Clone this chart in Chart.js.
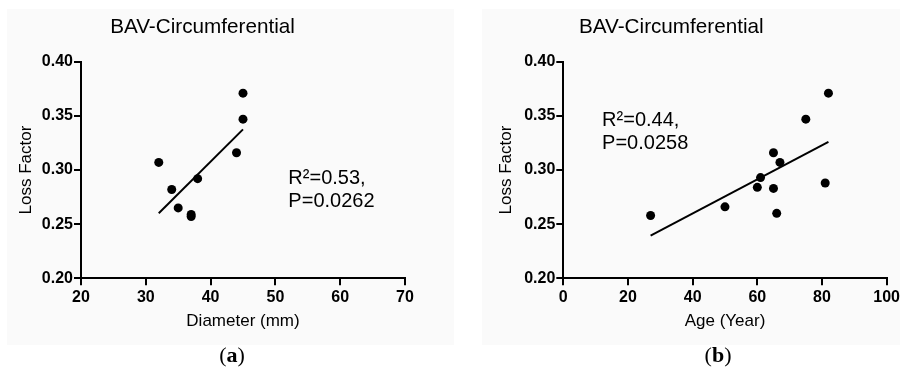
<!DOCTYPE html>
<html>
<head>
<meta charset="utf-8">
<script src="https://cdn.jsdelivr.net/npm/chart.js@4/dist/chart.umd.min.js"></script>
<style>
  html, body { margin: 0; padding: 0; background: #ffffff; width: 903px; height: 381px; overflow: hidden; }
  .panel { position: absolute; background: #fafafa; }
  .wrap { position: absolute; }
  .lab { position: absolute; font-family: "Liberation Serif", "DejaVu Serif", serif; font-size: 22px; color: #000; transform: translateX(-50%); }
</style>
</head>
<body>
<div class="panel" style="left:7px;top:9px;width:447px;height:336px;"></div>
<div class="panel" style="left:482px;top:9px;width:418px;height:336px;"></div>
<div class="wrap" style="left:0px;top:0px;width:450px;height:345px;"><canvas id="c1" width="450" height="345"></canvas></div>
<div class="wrap" style="left:455px;top:0px;width:448px;height:345px;"><canvas id="c2" width="448" height="345"></canvas></div>
<div class="lab" style="left:232px;top:342px;">(<b>a</b>)</div>
<div class="lab" style="left:718px;top:342px;">(<b>b</b>)</div>
<script>
// ---- Data ----
const chartTitle = "BAV-Circumferential";
const yAxisTitle = "Loss Factor";
const yTicks = [0.20, 0.25, 0.30, 0.35, 0.40];

// Panel (a): Diameter
const diameterX = [32, 34, 35, 37, 37, 38, 44, 45, 45];
const diameterLoss = [0.307, 0.282, 0.265, 0.259, 0.257, 0.292, 0.316, 0.347, 0.371];
const diameterFitX = [32, 45];
const diameterFitY = [0.260, 0.3375];
const diameterTicks = [20, 30, 40, 50, 60, 70];
const diameterTitle = "Diameter (mm)";
const diameterStats = ["R²=0.53,", "P=0.0262"];
const diameterStatsPos = [52, 0.287];

// Panel (b): Age
const ageX = [27, 50, 60, 61, 65, 65, 66, 67, 75, 81, 82];
const ageLoss = [0.258, 0.266, 0.284, 0.293, 0.316, 0.283, 0.260, 0.307, 0.347, 0.288, 0.371];
const ageFitX = [27, 82];
const ageFitY = [0.2395, 0.326];
const ageTicks = [0, 20, 40, 60, 80, 100];
const ageTitle = "Age (Year)";
const ageStats = ["R²=0.44,", "P=0.0258"];
const ageStatsPos = [12, 0.341];

const FONT = "'Liberation Sans', Arial, Helvetica, sans-serif";

const statsPlugin = {
  id: 'stats',
  afterDatasetsDraw(chart, args, opts) {
    const ctx = chart.ctx;
    const xs = chart.scales.x, ys = chart.scales.y;
    const px = xs.getPixelForValue(opts.pos[0]);
    const py = ys.getPixelForValue(opts.pos[1]);
    ctx.save();
    ctx.fillStyle = '#000';
    ctx.font = '20px ' + FONT;
    ctx.textAlign = 'left';
    ctx.textBaseline = 'alphabetic';
    opts.lines.forEach((t, i) => ctx.fillText(t, px, py + i * 23));
    ctx.restore();
  }
};

function makeChart(id, xData, yData, fitX, fitY, xTicks, xTitle, stats, statsPos, yWidth, yTitlePad, xRightPad) {
  const pts = xData.map((x, i) => ({ x: x, y: yData[i] }));
  const fit = fitX.map((x, i) => ({ x: x, y: fitY[i] }));
  return new Chart(document.getElementById(id), {
    type: 'scatter',
    data: {
      datasets: [
        { data: pts, backgroundColor: '#000', borderColor: '#000', pointRadius: 4.5, pointBorderWidth: 0, pointHoverRadius: 4.5 },
        { type: 'line', data: fit, borderColor: '#000', borderWidth: 2, pointRadius: 0, fill: false, tension: 0 }
      ]
    },
    options: {
      responsive: false,
      animation: false,
      events: [],
      layout: { padding: { left: 0, right: xRightPad, top: 0, bottom: 0 } },
      plugins: {
        legend: { display: false },
        tooltip: { enabled: false },
        title: {
          display: true, text: chartTitle, color: '#000',
          font: { family: FONT, size: 20.7, weight: 'normal', lineHeight: 1.2 },
          padding: { top: 14.6, bottom: 22.3 }
        },
        stats: { lines: stats, pos: statsPos }
      },
      scales: {
        x: {
          type: 'linear',
          min: xTicks[0], max: xTicks[xTicks.length - 1],
          afterBuildTicks: (s) => { s.ticks = xTicks.map(v => ({ value: v })); },
          afterFit: (s) => { s.height = 66.7; },
          ticks: { color: '#000', font: { family: FONT, size: 16, weight: 'bold' }, padding: 3, maxRotation: 0, callback: (v) => String(v) },
          grid: { display: true, drawOnChartArea: false, drawTicks: true, tickLength: 7, color: '#000', lineWidth: 2 },
          border: { display: true, color: '#000', width: 2 },
          title: { display: true, text: xTitle, color: '#000', font: { family: FONT, size: 17, lineHeight: 1.2 }, padding: { top: 0, bottom: 13.1 } }
        },
        y: {
          type: 'linear',
          min: 0.2, max: 0.4,
          afterBuildTicks: (s) => { s.ticks = yTicks.map(v => ({ value: v })); },
          afterFit: (s) => { s.width = yWidth; },
          ticks: { color: '#000', font: { family: FONT, size: 16, weight: 'bold' }, padding: 1, callback: (v) => Number(v).toFixed(2) },
          grid: { display: true, drawOnChartArea: false, drawTicks: true, tickLength: 7, color: '#000', lineWidth: 2 },
          border: { display: true, color: '#000', width: 2 },
          title: { display: true, text: yAxisTitle, color: '#000', font: { family: FONT, size: 17, lineHeight: 1.2 }, padding: { top: yTitlePad, bottom: 0 } }
        }
      }
    },
    plugins: [statsPlugin]
  });
}

makeChart('c1', diameterX, diameterLoss, diameterFitX, diameterFitY, diameterTicks, diameterTitle, diameterStats, diameterStatsPos, 81, 16.5, 45);
makeChart('c2', ageX, ageLoss, ageFitX, ageFitY, ageTicks, ageTitle, ageStats, ageStatsPos, 108.3, 41.5, 15.3);
</script>
</body>
</html>
